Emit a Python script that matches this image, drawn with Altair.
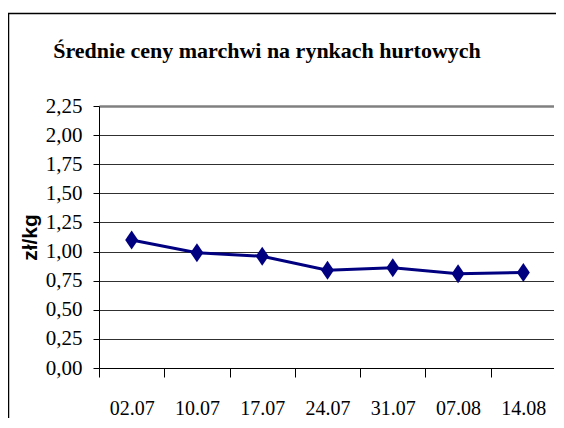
import altair as alt
import pandas as pd

dates = ["02.07", "10.07", "17.07", "24.07", "31.07", "07.08", "14.08"]
prices = [1.10, 0.99, 0.96, 0.84, 0.86, 0.81, 0.82]
y_ticks = [0.0, 0.25, 0.5, 0.75, 1.0, 1.25, 1.5, 1.75, 2.0, 2.25]
title_text = "Średnie ceny marchwi na rynkach hurtowych"
y_title = "zł/kg"

df = pd.DataFrame({"date": dates, "price": prices})

NAVY = "#000080"
SERIF = "'Liberation Serif', 'Times New Roman', 'DejaVu Serif', serif"
SANS = "'Liberation Sans', Arial, sans-serif"
diamond = "M0,-1L0.68,0L0,1L-0.68,0Z"

x_enc = alt.X(
    "date:N",
    sort=dates,
    scale=alt.Scale(type="band", paddingInner=0, paddingOuter=0),
    axis=alt.Axis(
        title=None, labelAngle=0, labelFont=SERIF, labelFontSize=20,
        labelColor="black", labelPadding=21, labelBaseline="top",
        tickBand="extent", tickSize=9, tickColor="black", tickWidth=1,
        domainColor="black", domainWidth=1, grid=False,
    ),
)
y_enc = alt.Y(
    "price:Q",
    scale=alt.Scale(domain=[0, 2.25], nice=False, zero=True),
    axis=alt.Axis(
        values=y_ticks,
        labelExpr="replace(format(datum.value, '.2f'), '.', ',')",
        labelFont=SERIF, labelFontSize=21, labelColor="black", labelPadding=11,
        tickSize=6, tickColor="black", domainColor="black", domainWidth=1,
        grid=True,
        gridColor=alt.condition("datum.value === 2.25", alt.value("#808080"), alt.value("#303030")),
        gridWidth=alt.condition("datum.value === 2.25", alt.value(2.5), alt.value(1)),
        title=y_title, titleFont=SANS, titleFontSize=21, titleFontWeight="bold",
        titleColor="black", titleX=-69, titleY=131, titleAngle=-90,
        titleAlign="center", titleBaseline="middle",
    ),
)

base = alt.Chart(df)
line = base.mark_line(color=NAVY, strokeWidth=3).encode(x=x_enc, y=y_enc)
points = base.mark_point(shape=diamond, filled=True, size=361, color=NAVY, opacity=1).encode(x=x_enc, y=y_enc)

one = alt.Data(values=[{"a": 1}])
title = alt.Chart(one).mark_text(
    text=title_text, font=SERIF, fontSize=22, fontWeight="bold",
    align="center", baseline="alphabetic", color="black",
).encode(x=alt.value(168), y=alt.value(-48))

frame_left = alt.Chart(one).mark_rule(color="black", strokeWidth=1.5).encode(
    x=alt.value(-90.5), y=alt.value(-92.5), y2=alt.value(320)
)
frame_top = alt.Chart(one).mark_rule(color="black", strokeWidth=1.5).encode(
    x=alt.value(-91), x2=alt.value(457), y=alt.value(-92.5)
)
# white strip over the right edge of the drawing
edge_cover = alt.Chart(one).mark_rect(color="white", strokeWidth=0).encode(
    x=alt.value(455), x2=alt.value(470), y=alt.value(-91), y2=alt.value(330)
)

chart = alt.layer(line, points, title, frame_left, frame_top, edge_cover).properties(
    width=457, height=262,
    autosize=alt.AutoSizeParams(type="none"),
    padding={"left": 91, "top": 98, "right": 0, "bottom": 50},
    background="white",
).configure_view(strokeWidth=0)

chart.save("out.html", embed_options={"renderer": "svg", "actions": False})
